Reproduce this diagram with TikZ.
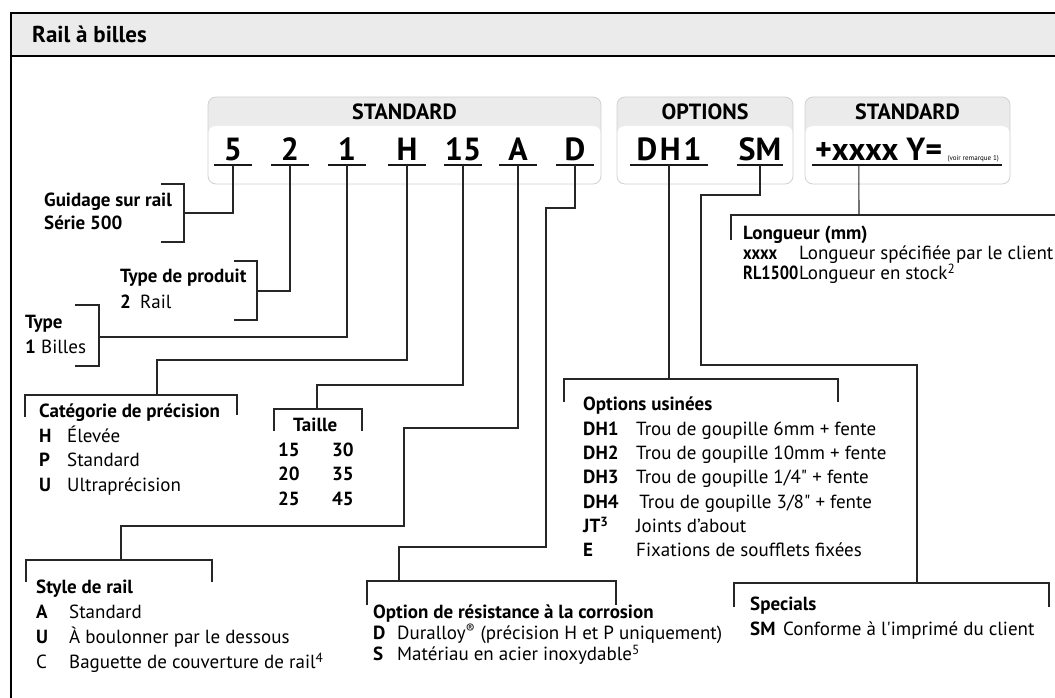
\documentclass[tikz,border=0pt]{standalone}
\usepackage{fontspec}
\setmainfont{PT Sans}[Ligatures=TeXOff]
\usetikzlibrary{positioning}

\newcommand\kw[2][28pt]{\makebox[#1][l]{\bfseries #2}}

\begin{document}
\begin{tikzpicture}[x=1pt, y=-1pt,
  link/.style={draw=black!85, line width=1.1pt},
  uline/.style={draw=black!90, line width=1.5pt},
  grp/.style={draw=black!18, line width=0.8pt, rounded corners=8pt},
  code/.style={font=\bfseries\fontsize{32}{32}\selectfont, inner xsep=0pt, inner ysep=4pt, text depth=0pt, anchor=south},
  grphead/.style={font=\bfseries\fontsize{22}{22}\selectfont, inner sep=0pt},
  lst/.style={anchor=north west, inner sep=0pt, align=left, font=\fontsize{19}{24.5}\selectfont}
]
\useasboundingbox (0,0) rectangle (1055,698);

% frame and title band
\fill[black!8] (11,13) rectangle (1056,56);
\draw[line width=2pt] (11,700) -- (11,13) -- (1056,13);
\draw[line width=1.2pt] (11,56) -- (1056,56);
\node[anchor=base west, inner sep=0pt, font=\bfseries\fontsize{23}{23}\selectfont] (title) at (32,43) {Rail à billes};

% code groups
\foreach \xa/\xb/\lbl [count=\i] in {208/601/STANDARD, 617/793/OPTIONS, 805/1010/STANDARD} {
  \fill[black!8, rounded corners=8pt] (\xa,97) rectangle (\xb,184);
  \fill[white, rounded corners=8pt] (\xa,126) rectangle (\xb,184);
  \draw[grp] (\xa,97) rectangle (\xb,184);
  \node[grphead] (head\i) at ({(\xa+\xb)/2},112) {\lbl};
}

% codes
\node[code, minimum width=37pt] (c5) at (233,165) {5};
\node[code, minimum width=37pt] (c2) at (290,165) {2};
\node[code, minimum width=37pt] (c1) at (347,165) {1};
\node[code, minimum width=37pt] (cH) at (407,165) {H};
\node[code, minimum width=37pt] (c15) at (463,165) {15};
\node[code, minimum width=37pt] (cA) at (518,165) {A};
\node[code, minimum width=37pt] (cD) at (575,165) {D};
\node[code, minimum width=78pt] (cDH) at (669,165) {\addfontfeature{LetterSpace=8}DH1};
\node[code, minimum width=45pt] (cSM) at (760,165) {SM};
\node[code, minimum width=190pt] (cL) at (907,165) {+xxxx Y=\,{\mdseries\fontsize{7}{7}\selectfont(voir remarque 1)}};
\foreach \c in {c5,c2,c1,cH,c15,cA,cD,cDH,cSM,cL}
  \draw[uline] (\c.south west) -- (\c.south east);

% brackets
\draw[link] (161,184) -| (184,242) -- (161,242);
\draw[link] (234,261) -| (257,320) -- (234,320);
\draw[link] (75,305) -| (99,366) -- (75,366);
\draw[link] (25,417) |- (237,395) -- (237,415);
\draw[link] (274,431) |- (362,409) -- (362,431);
\draw[link] (26,582) |- (212,560) -- (212,582);
\draw[link] (367,605) |- (616,581) -- (616,605);
\draw[link] (564,402) |- (838,379) -- (838,402);
\draw[link] (734,607) |- (1049,583) -- (1049,607);
\draw[link] (731,240) |- (1060,215);

\coordinate (jGd) at (184,213);
\coordinate (jTp) at (257,291);
\coordinate (jTy) at (99,337);
\coordinate (jCat) at (157,395);
\coordinate (jTa) at (317,409);
\coordinate (jSt) at (121,560);
\coordinate (jCo) at (399,581);
\coordinate (jOu) at (669,379);
\coordinate (jSp) at (917,583);
\coordinate (jLo) at (859,215);

% connectors
\draw[link] (c5.south) |- (jGd);
\draw[link] (c2.south) |- (jTp);
\draw[link] (c1.south) |- (jTy);
\draw[link] (cH.south) -- (407,360) -| (jCat);
\draw[link] (c15.south) -- (463,385) -| (jTa);
\draw[link] (cA.south) -- (518,428) -| (404,526) -| (jSt);
\draw[link] (cD.south) -- (575,208) -| (546,547) -| (jCo);
\draw[link] (cDH.south) -- (jOu);
\draw[link] (cSM.south) -- (760,195) -| (701,365) -| (jSp);
\draw[link] ([xshift=47pt]cL.south west) -- (jLo);

% legends
\node[lst, font=\bfseries\fontsize{19}{23}\selectfont] (guid) at (44,193) {Guidage sur rail\\Série 500};
\node[lst, font=\fontsize{19}{26}\selectfont] (prod) at (120,269) {\textbf{Type de produit}\\\kw[20pt]{2}Rail};
\node[lst, font=\fontsize{19}{25}\selectfont] (typ) at (25,315) {\textbf{Type}\\\kw[16pt]{1}Billes};
\node[lst] (prec) at (39,404) {\textbf{Catégorie de précision}\\\kw{H}Élevée\\\kw{P}Standard\\\kw{U}Ultraprécision};
\node[lst, font=\bfseries\fontsize{19}{24.5}\selectfont] (tail) at (278,418) {\hspace*{15pt}Taille\\\kw[54pt]{15}30\\\kw[54pt]{20}35\\\kw[54pt]{25}45};
\node[lst, font=\fontsize{19}{25}\selectfont] (styl) at (36,580) {\textbf{Style de rail}\\\kw[33pt]{A}Standard\\\kw[33pt]{U}À boulonner par le dessous\\\kw[33pt]{\mdseries C}Baguette de couverture de rail\textsuperscript{4}};
\node[lst, font=\fontsize{19}{21}\selectfont] (corr) at (373,605) {\textbf{Option de résistance à la corrosion}\\\kw[24pt]{D}Duralloy\textsuperscript{®} (précision H et P uniquement)\\\kw[24pt]{S}Matériau en acier inoxydable\textsuperscript{5}};
\node[lst, font=\fontsize{19}{24.3}\selectfont] (usin) at (583,397) {\textbf{Options usinées}\\\kw[53pt]{DH1}Trou de goupille 6mm + fente\\\kw[53pt]{DH2}Trou de goupille 10mm + fente\\\kw[53pt]{DH3}Trou de goupille 1/4" + fente\\\kw[53pt]{DH4}\,Trou de goupille 3/8" + fente\\\kw[53pt]{JT\textsuperscript{3}}Joints d’about\\\kw[53pt]{E}Fixations de soufflets fixées};
\node[lst, font=\fontsize{19}{25}\selectfont] (spec) at (750,597) {\textbf{Specials}\\\kw[33pt]{SM}Conforme à l'imprimé du client};
\node[lst, font=\fontsize{19}{19.5}\selectfont] (long) at (743,226) {\textbf{Longueur (mm)}\\\kw[56pt]{\addfontfeature{FakeStretch=0.86}xxxx}Longueur spécifiée par le client\\\kw[56pt]{\addfontfeature{FakeStretch=0.86}RL1500}Longueur en stock\textsuperscript{2}};
\end{tikzpicture}
\end{document}
